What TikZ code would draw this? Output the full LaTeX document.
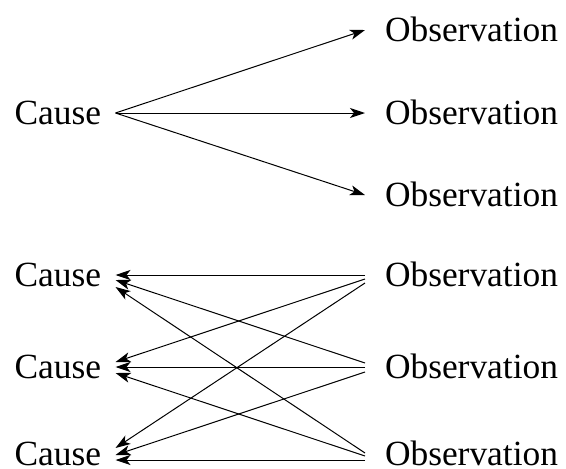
\documentclass[tikz,border=0pt]{standalone}
\usepackage{fontspec}
\setmainfont{Liberation Serif}
\usetikzlibrary{arrows.meta}
\begin{document}
\begin{tikzpicture}[x=1pt,y=-1pt,
  lbl/.style={inner sep=0pt, text height=23pt, text depth=0pt,
    font=\fontsize{35.4}{40}\selectfont},
  cause/.style={lbl, anchor=west, outer xsep=14.5pt},
  obs/.style={lbl, anchor=west, outer xsep=20pt},
  link/.style={line width=1pt, -{Stealth[length=15pt,width=10pt,inset=4pt]}}]
\useasboundingbox (0,0) rectangle (566,469);

% one cause, three observations
\node[cause] (ct) at (0,113) {Cause};
\node[obs] (ot1) at (365,30) {Observation};
\node[obs] (ot2) at (365,113) {Observation};
\node[obs] (ot3) at (365,195) {Observation};
\draw[link] (ct.east) -- (ot1.west);
\draw[link] (ct.east) -- (ot2.west);
\draw[link] (ct.east) -- (ot3.west);

% three observations, three causes
\node[cause] (c1) at (0,275) {Cause};
\node[cause] (c2) at (0,367) {Cause};
\node[cause] (c3) at (0,454) {Cause};
\node[obs] (o1) at (365,275) {Observation};
\node[obs] (o2) at (365,367) {Observation};
\node[obs] (o3) at (365,454) {Observation};

\draw[link] (o1.west) -- (c1.east);
\draw[link] ([yshift=-4pt]o1.west) -- ([yshift=5pt]c2.east);
\draw[link] ([yshift=-8pt]o1.west) -- ([yshift=6pt]c3.east);

\draw[link] ([yshift=4pt]o2.west) -- ([yshift=-5pt]c1.east);
\draw[link] (o2.west) -- (c2.east);
\draw[link] ([yshift=-5pt]o2.west) -- ([yshift=-1pt]c3.east);

\draw[link] ([yshift=1pt]o3.west) -- ([yshift=-12pt]c1.east);
\draw[link] ([yshift=-2pt]o3.west) -- ([yshift=-6pt]c2.east);
\draw[link] ([yshift=-6pt]o3.west) -- ([yshift=-6pt]c3.east);
\end{tikzpicture}
\end{document}
